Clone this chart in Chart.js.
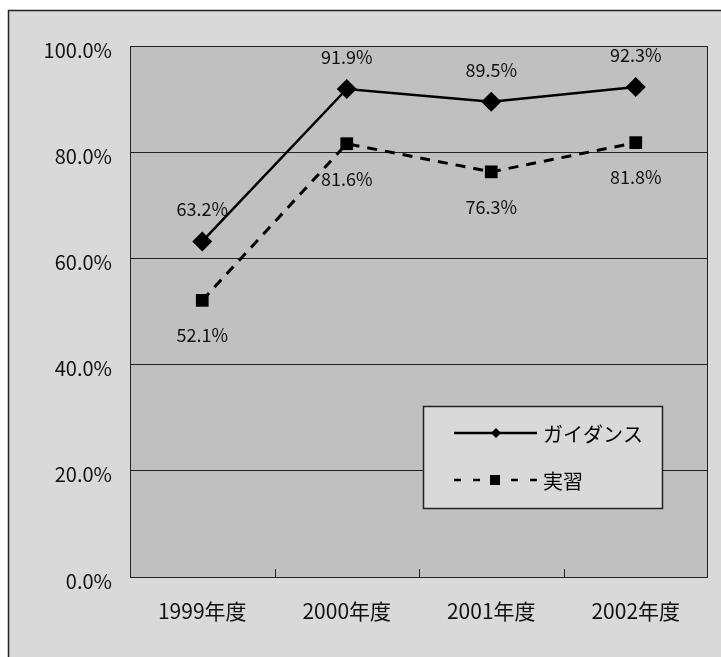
<!DOCTYPE html>
<html>
<head>
<meta charset="utf-8">
<script src="https://cdn.jsdelivr.net/npm/chart.js@4.4.0/dist/chart.umd.min.js"></script>
<style>
  html, body { margin: 0; padding: 0; background: #fff; }
  #wrap { width: 721px; height: 657px; }
</style>
</head>
<body>
<div id="wrap"><canvas id="grafica" width="721" height="657"></canvas></div>
<script>
// datos
var categorias = ['1999年度', '2000年度', '2001年度', '2002年度'];
var guidance = [63.2, 91.9, 89.5, 92.3];
var jisshu = [52.1, 81.6, 76.3, 81.8];
var nombres = ['ガイダンス', '実習'];

var fuente = '"Noto Sans CJK JP", "Noto Sans", sans-serif';

// fondo del grafico y del area de trazado
var fondoPlugin = {
  id: 'fondo',
  beforeDraw: function(chart) {
    var ctx = chart.ctx, a = chart.chartArea;
    ctx.save();
    ctx.fillStyle = '#ffffff';
    ctx.fillRect(0, 0, chart.width, chart.height);
    ctx.fillStyle = '#d9d9d9';
    ctx.fillRect(8, 10, chart.width - 8, chart.height - 10);
    ctx.strokeStyle = '#222';
    ctx.lineWidth = 1.5;
    ctx.beginPath();
    ctx.moveTo(8.5, chart.height);
    ctx.lineTo(8.5, 10.5);
    ctx.lineTo(chart.width, 10.5);
    ctx.stroke();
    ctx.fillStyle = '#c0c0c0';
    ctx.fillRect(a.left, a.top, a.right - a.left, a.bottom - a.top);
    ctx.restore();
  },
  beforeDatasetsDraw: function(chart) {
    var ctx = chart.ctx, a = chart.chartArea, xs = chart.scales.x;
    ctx.save();
    ctx.strokeStyle = '#222';
    ctx.lineWidth = 1;
    ctx.strokeRect(a.left + 0.5, a.top + 0.5, a.right - a.left - 1, a.bottom - a.top);
    // marcas del eje x entre categorias
    for (var i = 0; i < categorias.length - 1; i++) {
      var px = Math.round((xs.getPixelForValue(i) + xs.getPixelForValue(i + 1)) / 2) + 0.5;
      ctx.beginPath();
      ctx.moveTo(px, a.bottom);
      ctx.lineTo(px, a.bottom - 8);
      ctx.stroke();
    }
    ctx.restore();
  }
};

// etiquetas de valores
var desplazamientos = [-32, 35];
var etiquetasPlugin = {
  id: 'etiquetas',
  afterDatasetsDraw: function(chart) {
    var ctx = chart.ctx;
    ctx.save();
    ctx.font = '18px ' + fuente;
    ctx.fillStyle = '#111';
    ctx.textAlign = 'center';
    ctx.textBaseline = 'middle';
    chart.data.datasets.forEach(function(ds, d) {
      var meta = chart.getDatasetMeta(d);
      meta.data.forEach(function(pt, i) {
        ctx.fillText(ds.data[i].toFixed(1) + '%', pt.x, pt.y + desplazamientos[d]);
      });
    });
    ctx.restore();
  }
};

// leyenda dentro del area de trazado
var leyendaPlugin = {
  id: 'leyendaCaja',
  afterDraw: function(chart) {
    var ctx = chart.ctx;
    var x0 = 423, y0 = 406, w = 239, h = 102;
    ctx.save();
    ctx.fillStyle = '#d9d9d9';
    ctx.fillRect(x0, y0, w, h);
    ctx.strokeStyle = '#222';
    ctx.lineWidth = 1.5;
    ctx.strokeRect(x0 + 0.5, y0 + 0.5, w, h);
    var filas = [433, 480];
    chart.data.datasets.forEach(function(ds, d) {
      var y = filas[d];
      ctx.strokeStyle = '#000';
      ctx.lineWidth = 2.5;
      ctx.setLineDash(d === 1 ? [7, 12] : []);
      ctx.beginPath();
      ctx.moveTo(454, y);
      ctx.lineTo(537, y);
      ctx.stroke();
      ctx.setLineDash([]);
      ctx.fillStyle = '#000';
      ctx.beginPath();
      if (d === 0) {
        ctx.moveTo(496, y - 5); ctx.lineTo(501, y); ctx.lineTo(496, y + 5); ctx.lineTo(491, y);
      } else {
        ctx.rect(490, y - 5, 10, 10);
      }
      ctx.fill();
      ctx.font = '20px ' + fuente;
      ctx.textAlign = 'left';
      ctx.textBaseline = 'middle';
      ctx.fillText(nombres[d], 543, y + 1);
    });
    ctx.restore();
  }
};

const grafica = new Chart(document.getElementById('grafica'), {
  type: 'line',
  data: {
    labels: categorias,
    datasets: [{
      label: nombres[0],
      data: guidance,
      borderColor: '#000',
      borderWidth: 2.5,
      pointStyle: 'rectRot',
      pointRadius: 10,
      pointBackgroundColor: '#000',
      pointBorderColor: '#000',
      pointBorderWidth: 0,
      tension: 0
    }, {
      label: nombres[1],
      data: jisshu,
      borderColor: '#000',
      borderWidth: 3,
      borderDash: [10, 8],
      pointStyle: 'rect',
      pointRadius: 9,
      pointBackgroundColor: '#000',
      pointBorderColor: '#000',
      pointBorderWidth: 0,
      tension: 0
    }]
  },
  options: {
    responsive: false,
    animation: false,
    devicePixelRatio: 1,
    layout: { padding: { left: 0, top: 46, right: 13, bottom: 0 } },
    plugins: {
      legend: { display: false },
      tooltip: { enabled: false }
    },
    scales: {
      x: {
        offset: true,
        grid: { display: false, drawTicks: false },
        border: { display: false },
        ticks: { color: '#111', font: { size: 21, family: fuente }, padding: 21, maxRotation: 0 },
        afterFit: function(s) { s.height = 80; }
      },
      y: {
        min: 0,
        max: 100,
        grid: { color: '#222', lineWidth: 1, drawTicks: false },
        border: { display: false },
        ticks: {
          stepSize: 20,
          color: '#111',
          padding: 18,
          labelOffset: 4,
          font: { size: 20, family: fuente },
          callback: function(v) { return v.toFixed(1) + '%'; }
        },
        afterFit: function(s) { s.width = 130; }
      }
    }
  },
  plugins: [fondoPlugin, etiquetasPlugin, leyendaPlugin]
});
</script>
</body>
</html>
